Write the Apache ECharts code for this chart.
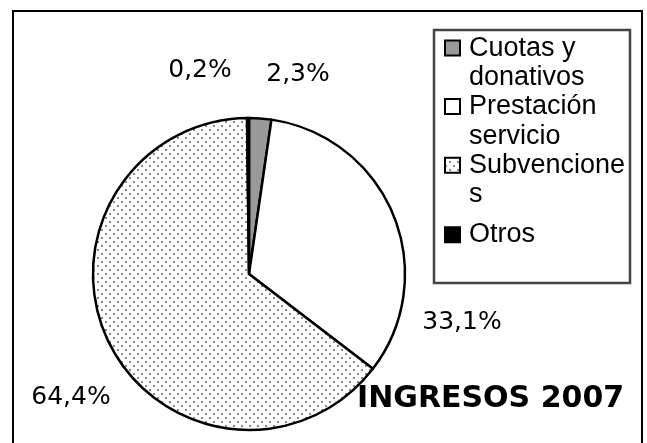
<!DOCTYPE html>
<html>
<head>
<meta charset="utf-8">
<script src="https://cdn.jsdelivr.net/npm/echarts@6/dist/echarts.min.js"></script>
<style>
  html, body { margin: 0; padding: 0; background: #fff; }
  #chart { width: 647px; height: 443px; }
</style>
</head>
<body>
<div id="chart"></div>
<script>
// data
const categories = ['Cuotas y donativos', 'Prestación servicio', 'Subvenciones', 'Otros']
const legendLabels = ['Cuotas y\ndonativos', 'Prestación\nservicio', 'Subvencione\ns', 'Otros']
const values = [2.3, 33.1, 64.4, 0.2]
const titleText = 'INGRESOS 2007'

// dotted fill used by "Subvenciones"
function makeDots() {
  const c = document.createElement('canvas')
  c.width = 8
  c.height = 8
  const g = c.getContext('2d')
  g.fillStyle = '#fff'
  g.fillRect(0, 0, 8, 8)
  g.fillStyle = '#888'
  g.fillRect(1, 1, 2, 2)
  g.fillRect(5, 5, 2, 2)
  return c
}
const dots = makeDots()
const fills = ['#999999', '#ffffff', { image: dots, repeat: 'repeat' }, '#000000']

// where the percentage labels sit (label centres)
const labelSpots = [[298, 74], [462, 322], [71, 397], [200, 70]]

const fmt = v => v.toFixed(1).replace('.', ',') + '%'

// legend drawn by hand so the square lines up with the first text line
const legendTop = 48
const lineStep = 29.3
const legendItems = []
let line = 0
legendLabels.forEach((lab, i) => {
  const cy = legendTop + line * lineStep + (i === 3 ? 11 : 0)
  legendItems.push({
    type: 'rect',
    shape: { x: 445, y: cy - 7.5, width: 15, height: 15 },
    style: { fill: fills[i], stroke: '#000', lineWidth: 2 }
  })
  legendItems.push({
    type: 'text',
    x: 469,
    y: cy - 14.5,
    style: {
      text: lab,
      font: '27px "Liberation Sans", Arial, sans-serif',
      fill: '#000',
      lineHeight: 29.3,
      verticalAlign: 'top'
    }
  })
  line += lab.split('\n').length
})

const chart = echarts.init(document.getElementById('chart'))
chart.setOption({
  animation: false,
  title: {
    text: titleText,
    left: 357,
    top: 384,
    padding: 0,
    textStyle: {
      fontFamily: '"DejaVu Sans", sans-serif',
      fontWeight: 'bold',
      fontSize: 30,
      color: '#000'
    }
  },
  graphic: [
    {
      type: 'rect',
      shape: { x: 13, y: 11, width: 629, height: 460 },
      style: { fill: 'none', stroke: '#000', lineWidth: 2 }
    },
    {
      type: 'rect',
      shape: { x: 434, y: 30, width: 196, height: 253 },
      style: { fill: '#fff', stroke: '#444', lineWidth: 2.5 }
    },
    ...legendItems
  ],
  series: [
    {
      type: 'pie',
      center: [249, 274],
      radius: 156,
      startAngle: 90,
      clockwise: true,
      data: categories.map((name, i) => ({
        name: name,
        value: values[i],
        itemStyle: { color: fills[i] }
      })),
      itemStyle: {
        borderColor: '#000',
        borderWidth: 2.5
      },
      label: {
        show: true,
        position: 'outside',
        overflow: 'none',
        formatter: p => fmt(p.value),
        fontFamily: '"DejaVu Sans", sans-serif',
        fontSize: 25,
        color: '#000'
      },
      labelLine: { show: false },
      labelLayout: p => ({
        x: labelSpots[p.dataIndex][0],
        y: labelSpots[p.dataIndex][1],
        width: 120,
        align: 'center',
        verticalAlign: 'middle'
      }),
      emphasis: { disabled: true }
    }
  ]
})
</script>
</body>
</html>
